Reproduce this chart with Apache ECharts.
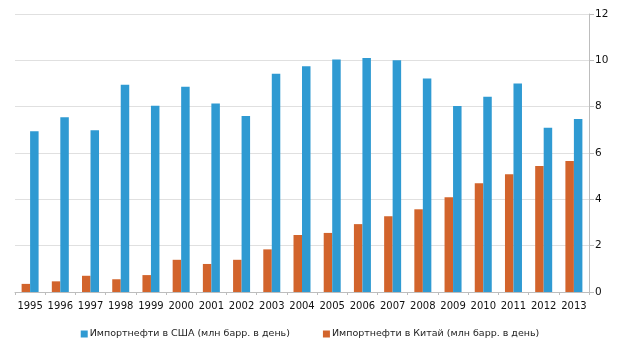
<!DOCTYPE html>
<html>
<head>
<meta charset="utf-8">
<script src="https://cdn.jsdelivr.net/npm/echarts@6/dist/echarts.min.js"></script>
<style>html,body{margin:0;padding:0;background:#fff;}#c{width:620px;height:353px;}</style>
</head>
<body>
<div id="c"></div>
<script>
const years = ['1995','1996','1997','1998','1999','2000','2001','2002','2003','2004','2005','2006','2007','2008','2009','2010','2011','2012','2013'];
const usName = 'Импортнефти в США (млн барр. в день)';
const cnName = 'Импортнефти в Китай (млн барр. в день)';
const usValues = [6.94, 7.54, 6.98, 8.95, 8.04, 8.86, 8.14, 7.60, 9.42, 9.75, 10.04, 10.10, 10.00, 9.22, 8.03, 8.43, 9.00, 7.09, 7.47];
const cnValues = [0.35, 0.46, 0.70, 0.55, 0.73, 1.39, 1.21, 1.39, 1.84, 2.46, 2.55, 2.93, 3.27, 3.57, 4.09, 4.69, 5.08, 5.44, 5.65];
const yTicks = [0, 2, 4, 6, 8, 10, 12];

const chart = echarts.init(document.getElementById('c'), null, {renderer: 'canvas'});
chart.setOption({
  animation: false,
  backgroundColor: '#ffffff',
  textStyle: {fontFamily: 'DejaVu Sans'},
  grid: {left: 15, right: 31, top: 14, bottom: 61, containLabel: false},
  legend: {
    data: [usName, cnName],
    bottom: 9,
    left: 'center',
    itemWidth: 7, itemHeight: 7, itemGap: 33,
    icon: 'rect',
    textStyle: {fontSize: 9.5, color: '#222', fontFamily: 'DejaVu Sans', padding: [0,0,0,-3]}
  },
  xAxis: {
    type: 'category',
    data: years,
    axisLine: {lineStyle: {color: '#bdbdbd', width: 1}},
    axisTick: {show: true, length: 3, lineStyle: {color: '#bdbdbd'}},
    axisLabel: {color: '#111', fontSize: 10, margin: 9, interval: 0}
  },
  yAxis: {
    type: 'value',
    position: 'right',
    min: yTicks[0], max: yTicks[yTicks.length - 1], interval: 2,
    axisLine: {show: true, lineStyle: {color: '#bdbdbd'}},
    axisTick: {show: true, length: 5, lineStyle: {color: '#bdbdbd'}},
    axisLabel: {color: '#111', fontSize: 10.5, margin: 6},
    splitLine: {lineStyle: {color: '#e0e0e0', width: 1}}
  },
  series: [
    {name: cnName, type: 'bar', data: cnValues, barWidth: 8.5, barGap: '0%', itemStyle: {color: '#D2642C'}},
    {name: usName, type: 'bar', data: usValues, barWidth: 8.5, barGap: '0%', itemStyle: {color: '#2F9AD2'}}
  ]
});
</script>
</body>
</html>
